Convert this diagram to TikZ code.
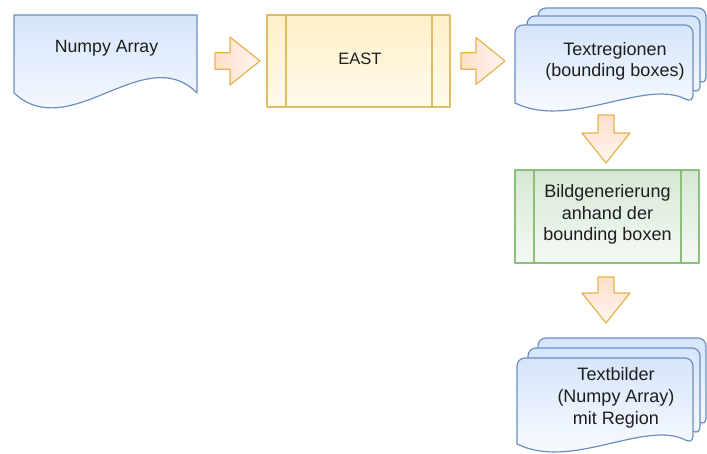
\documentclass[tikz,border=0pt]{standalone}
\usepackage{fontspec}
\setmainfont{Liberation Sans}
\definecolor{bstroke}{HTML}{6C8EBF}
\definecolor{bfill}{HTML}{D6E5FB}
\definecolor{ystroke}{HTML}{DDBE66}
\definecolor{yfill}{HTML}{FFF0C8}
\definecolor{gstroke}{HTML}{8CC07A}
\definecolor{gfill}{HTML}{D5E8D4}
\definecolor{astroke}{HTML}{E5B54C}
\definecolor{afill}{HTML}{FDDFCB}
\definecolor{txt}{HTML}{1E1E1E}
% document with rounded top corners and wavy bottom: x0, ytop, x1, ybot
\newcommand\mydocpath[4]{[rounded corners=8pt] (#1,#4) -- (#1,#2) -- (#3,#2) -- (#3,#4) [sharp corners]
  .. controls ({#3-0.27*(#3-#1)},{#4+25}) and ({#1+0.31*(#3-#1)},{#4-27}) .. (#1,#4) -- cycle}
\begin{document}
\begin{tikzpicture}[x=1pt,y=1pt,line join=round,
  bluedoc/.style={draw=bstroke, line width=1.2pt, top color=bfill, bottom color=white},
  yellowproc/.style={draw=ystroke, line width=1.2pt, top color=yfill, bottom color=yfill!35!white},
  greenproc/.style={draw=gstroke, line width=1.2pt, top color=gfill, bottom color=gfill!25!white},
  harrow/.style={draw=astroke, line width=1.2pt, left color=afill, right color=afill!30!white},
  varrow/.style={draw=astroke, line width=1.2pt, top color=afill, bottom color=afill!30!white},
  lbl/.style={text=txt, inner sep=0pt, align=center},
  big/.style={font=\fontsize{18}{21.7}\selectfont},
]
\useasboundingbox (0,0) rectangle (707,-454);

% Numpy Array document
\path[bluedoc] (14,-15) -- (197,-15) -- (197,-93)
  .. controls (145,-40) and (70,-145) .. (14,-93) -- cycle;
\node[lbl, font=\fontsize{17.7}{21}\selectfont, anchor=base] (numpy) at (106.5,-52.3) {Numpy Array};

% arrow 1
\path[harrow] (215,-52.7) -- (230,-52.7) -- (230,-37) -- (260,-61) -- (230,-85)
  -- (230,-69.3) -- (215,-69.3) -- cycle;

% EAST process
\path[yellowproc] (267,-15) rectangle (450,-107);
\draw[ystroke, line width=1.2pt] (286,-15) -- (286,-107) (432,-15) -- (432,-107);
\node[lbl, font=\fontsize{16.5}{20}\selectfont, anchor=base] (east) at (360,-65) {EAST};

% arrow 2
\path[harrow] (461,-52.7) -- (476,-52.7) -- (476,-37.5) -- (505,-61) -- (476,-84.5)
  -- (476,-69.3) -- (461,-69.3) -- cycle;

% Textregionen multi-document
\path[bluedoc] \mydocpath{538}{-8}{706}{-85};
\path[bluedoc] \mydocpath{527}{-16}{700}{-94};
\path[bluedoc] \mydocpath{515}{-25}{693}{-103};
\node[lbl, big, anchor=north] (regions) at (615,{-55+15.19}) {\strut Textregionen\\\strut (bounding boxes)};

% arrow 3
\path[varrow] (598,-115) -- (614,-115) -- (614,-133) -- (630,-133) -- (606,-163)
  -- (582,-133) -- (598,-133) -- cycle;

% Bildgenerierung process
\path[greenproc] (515,-170) rectangle (699,-263);
\draw[gstroke, line width=1.2pt] (534,-170) -- (534,-263) (681,-170) -- (681,-263);
\node[lbl, big, anchor=north] (bildgen) at (607.5,{-197.3+15.19}) {\strut Bildgenerierung\\\strut anhand der\\\strut bounding boxen};

% arrow 4
\path[varrow] (598,-277) -- (614,-277) -- (614,-293) -- (630,-293) -- (606,-323)
  -- (582,-293) -- (598,-293) -- cycle;

% Textbilder multi-document
\path[bluedoc] \mydocpath{538}{-338}{706}{-426};
\path[bluedoc] \mydocpath{528}{-348}{700}{-435};
\path[bluedoc] \mydocpath{517}{-358}{693}{-444};
\node[lbl, big, anchor=north] (textbilder) at (616,{-380.7+15.19}) {\strut Textbilder\\\strut (Numpy Array)\\\strut mit Region};
\end{tikzpicture}
\end{document}
